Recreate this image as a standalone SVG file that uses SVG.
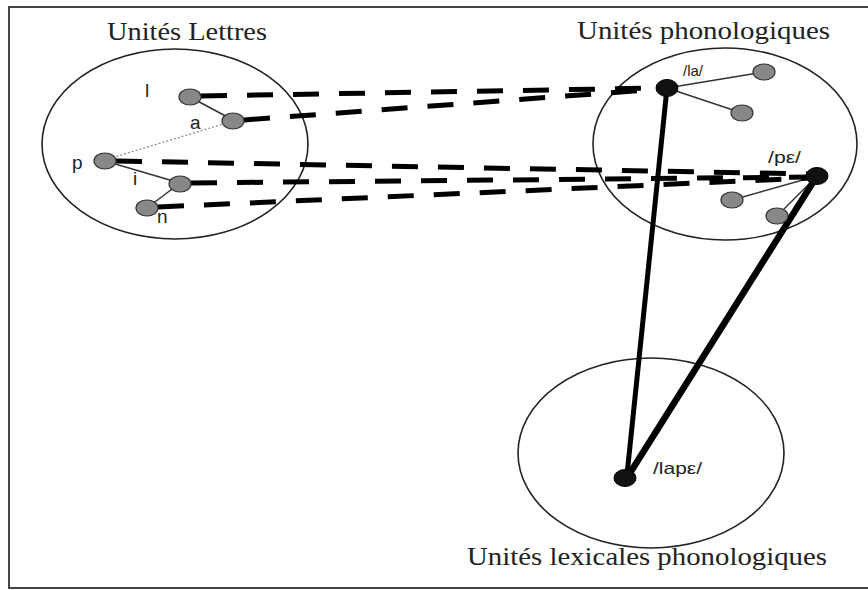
<svg xmlns="http://www.w3.org/2000/svg" width="868" height="590" viewBox="0 0 868 590">
<style>
.title{font-family:"Liberation Serif","Times New Roman",serif;font-size:26px;fill:#222}
.lbl{font-family:"Liberation Sans",Arial,sans-serif;fill:#222}
.set{fill:none;stroke:#222;stroke-width:1.6}
.gray{fill:#888;stroke:#333;stroke-width:1.2}
.black{fill:#111;stroke:#000;stroke-width:1}
.thin{stroke:#333;stroke-width:1.5;fill:none}
.dash{stroke:#000;stroke-width:5;stroke-dasharray:26 20;fill:none}
.thick{stroke:#000;fill:none}
</style>
<rect x="0" y="0" width="868" height="590" fill="#fff"/>
<rect x="9" y="7" width="870" height="581" fill="none" stroke="#444" stroke-width="2"/>

<g id="set-lettres">
<ellipse class="set" cx="175" cy="144" rx="133" ry="95"/>
<text class="title" x="107" y="40" textLength="160" lengthAdjust="spacingAndGlyphs">Unités Lettres</text>
</g>
<g id="set-phono">
<ellipse class="set" cx="725" cy="144" rx="132" ry="96"/>
<text class="title" x="577" y="39" textLength="253" lengthAdjust="spacingAndGlyphs">Unités phonologiques</text>
</g>
<g id="set-lex">
<ellipse class="set" cx="651" cy="453" rx="133" ry="95"/>
<text class="title" x="467" y="565" textLength="360" lengthAdjust="spacingAndGlyphs">Unités lexicales phonologiques</text>
</g>

<g id="connectors">
<line class="thin" x1="190" y1="97" x2="233" y2="120"/>
<line x1="105" y1="160" x2="233" y2="121" stroke="#888" stroke-width="1.2" stroke-dasharray="2 2"/>
<line class="thin" x1="105" y1="161" x2="180" y2="183"/>
<line class="thin" x1="180" y1="183" x2="147" y2="208"/>
<line class="thin" x1="667" y1="88" x2="764" y2="72"/>
<line class="thin" x1="667" y1="88" x2="742" y2="113"/>
<line class="thin" x1="817" y1="176" x2="732" y2="200"/>
<line class="thin" x1="817" y1="176" x2="777" y2="216"/>
<line class="dash" x1="201" y1="96" x2="660" y2="88"/>
<line class="dash" x1="244" y1="120" x2="660" y2="89"/>
<line class="dash" x1="116" y1="161" x2="810" y2="174"/>
<line class="dash" x1="191" y1="183" x2="810" y2="177"/>
<line class="dash" x1="158" y1="207" x2="810" y2="178"/>
<line class="thick" stroke-width="5" x1="667" y1="88" x2="627" y2="475"/>
<line class="thick" stroke-width="6.5" x1="817" y1="176" x2="630" y2="473"/>
</g>

<g id="node-l"><ellipse class="gray" cx="190" cy="97" rx="11" ry="8"/><text class="lbl" x="145" y="97" font-size="19">l</text></g>
<g id="node-a"><ellipse class="gray" cx="233" cy="121" rx="11" ry="8"/><text class="lbl" x="190" y="129" font-size="19">a</text></g>
<g id="node-p"><ellipse class="gray" cx="105" cy="161" rx="11" ry="8"/><text class="lbl" x="72" y="169" font-size="19">p</text></g>
<g id="node-i"><ellipse class="gray" cx="180" cy="184" rx="11" ry="8"/><text class="lbl" x="133" y="185" font-size="19">i</text></g>
<g id="node-n"><ellipse class="gray" cx="147" cy="208" rx="11" ry="8"/><text class="lbl" x="157" y="223" font-size="19">n</text></g>

<g id="node-la"><ellipse class="black" cx="667" cy="88" rx="11" ry="8.5"/><text class="lbl" x="683" y="76" font-size="15" textLength="20" lengthAdjust="spacingAndGlyphs">/la/</text></g>
<g id="node-la-1"><ellipse class="gray" cx="764" cy="72" rx="11" ry="8"/></g>
<g id="node-la-2"><ellipse class="gray" cx="742" cy="113" rx="11" ry="8"/></g>
<g id="node-pe"><ellipse class="black" cx="817" cy="176" rx="11" ry="8.5"/><text class="lbl" x="768" y="163" font-size="16" textLength="33" lengthAdjust="spacingAndGlyphs">/pε/</text></g>
<g id="node-pe-1"><ellipse class="gray" cx="732" cy="200" rx="11" ry="8"/></g>
<g id="node-pe-2"><ellipse class="gray" cx="777" cy="216" rx="11" ry="8"/></g>

<g id="node-lape"><ellipse class="black" cx="625" cy="478" rx="11" ry="8.5"/><text class="lbl" x="653" y="474" font-size="17" textLength="49" lengthAdjust="spacingAndGlyphs">/lapε/</text></g>
</svg>
